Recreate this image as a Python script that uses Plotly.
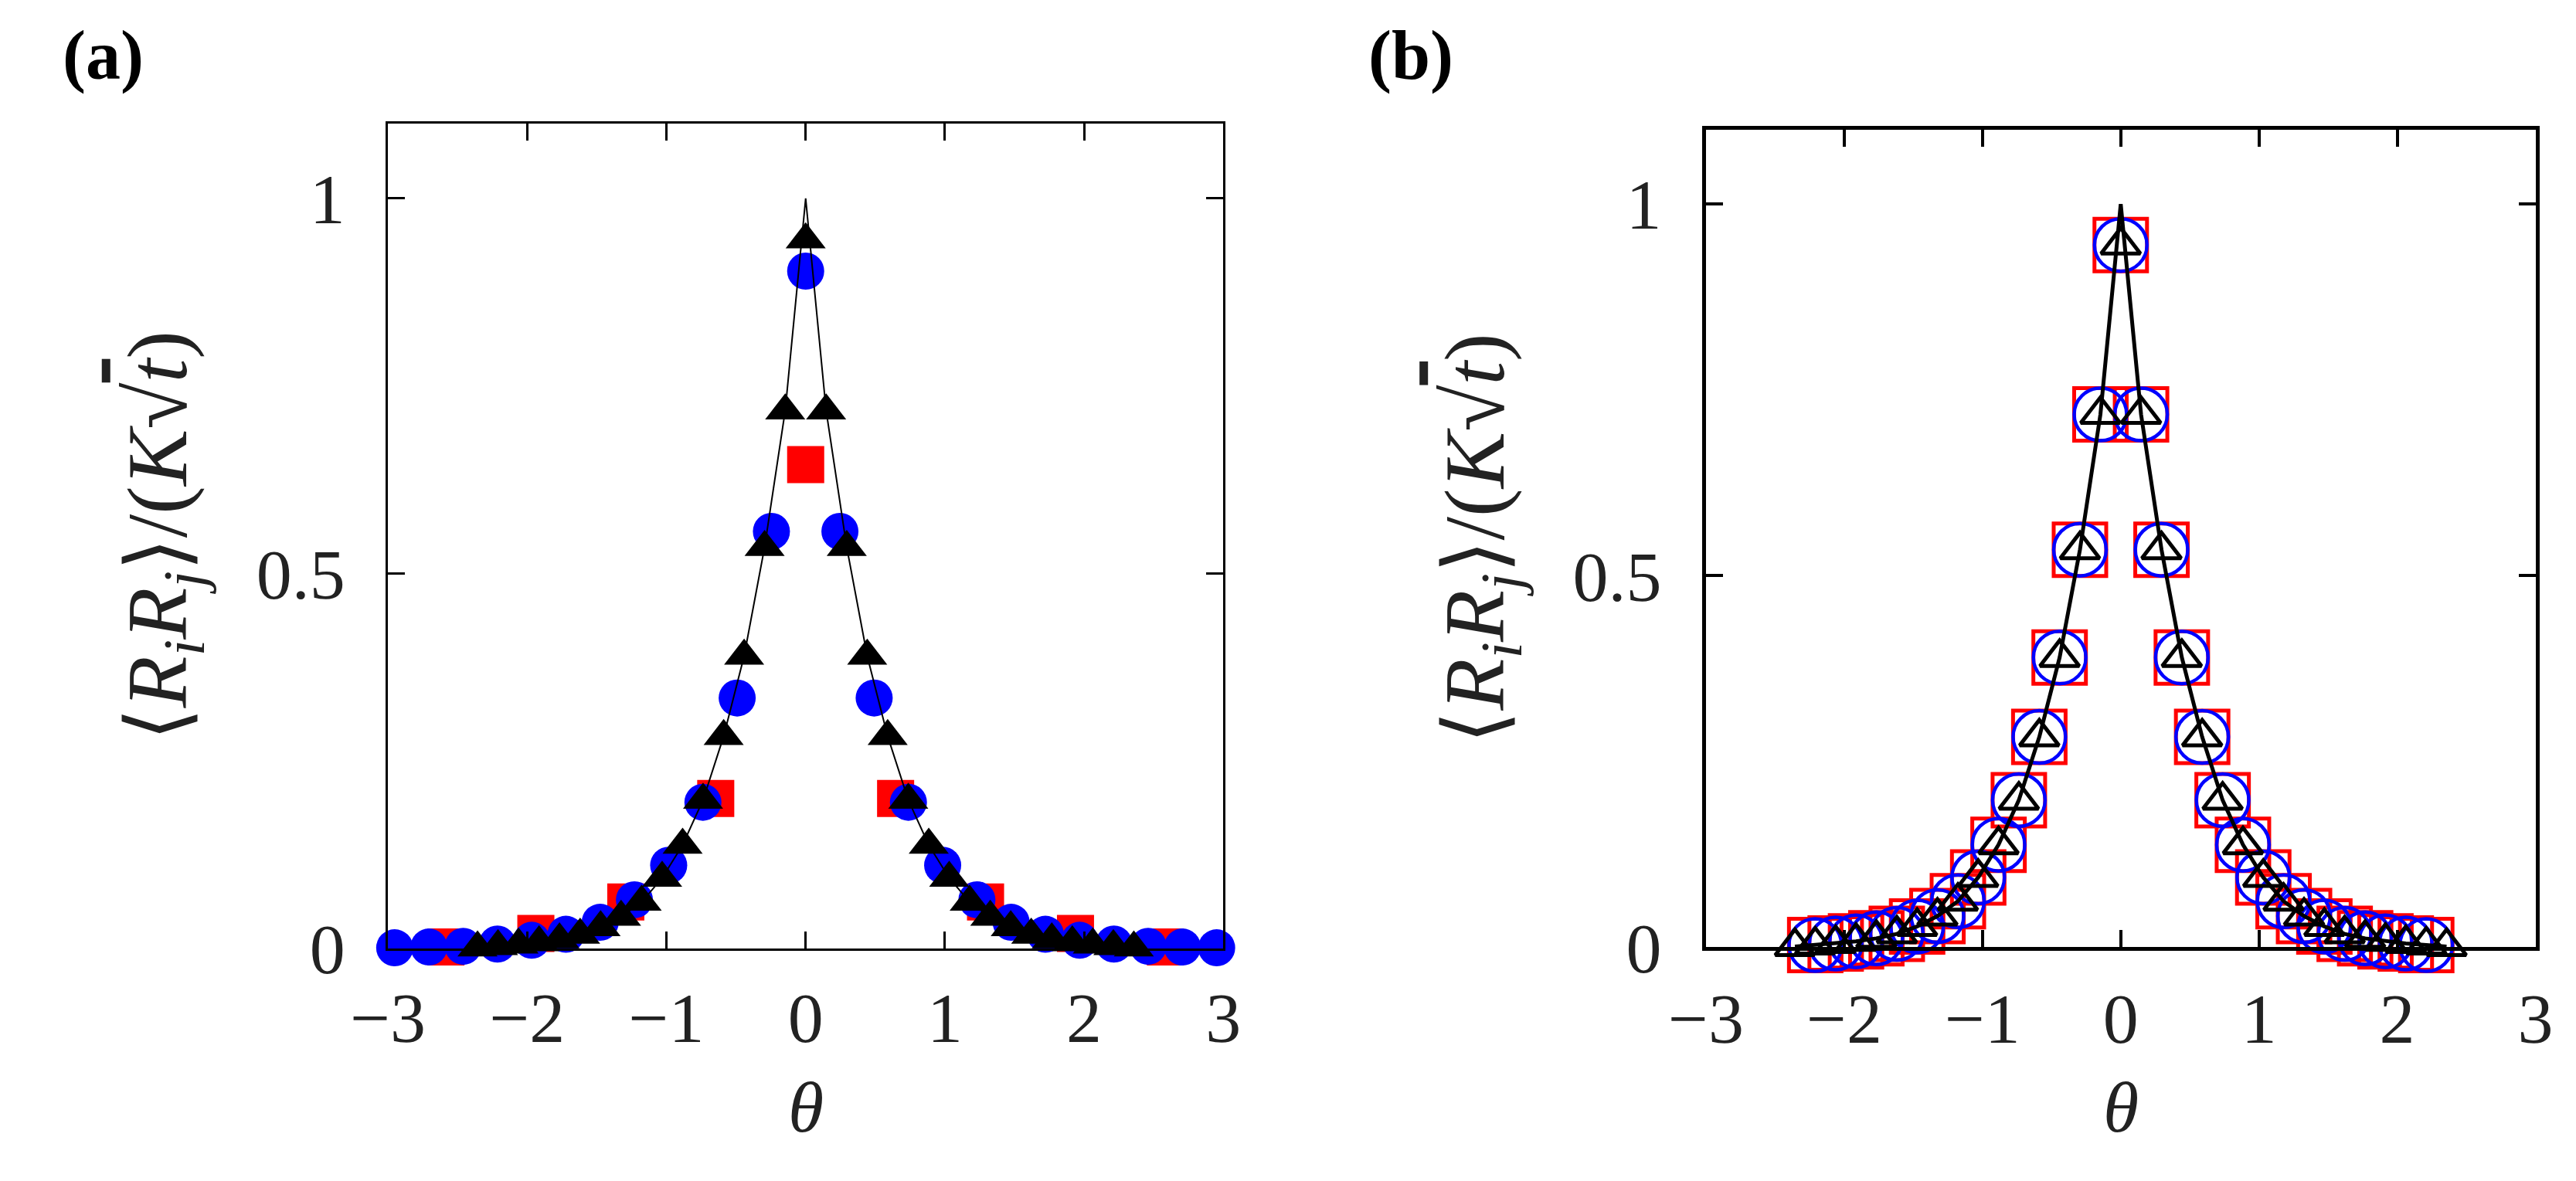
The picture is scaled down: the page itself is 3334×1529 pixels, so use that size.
import plotly.graph_objects as go

W, H = 3334, 1529

# triangle series (theta grid, also used by the solid line), panel (a) and (b)
tri_theta = [-2.357, -2.210, -2.062, -1.915, -1.768, -1.620, -1.473, -1.326, -1.178,
             -1.031, -0.884, -0.737, -0.589, -0.442, -0.295, -0.147, 0.0,
             0.147, 0.295, 0.442, 0.589, 0.737, 0.884, 1.031, 1.178,
             1.326, 1.473, 1.620, 1.768, 1.915, 2.062, 2.210, 2.357]
tri_vals = [0.001, 0.003, 0.005, 0.008, 0.012, 0.018, 0.028, 0.042, 0.062,
            0.094, 0.138, 0.198, 0.283, 0.390, 0.535, 0.717, 0.945,
            0.717, 0.535, 0.390, 0.283, 0.198, 0.138, 0.094, 0.062,
            0.042, 0.028, 0.018, 0.012, 0.008, 0.005, 0.003, 0.001]
line_vals = [0.001, 0.003, 0.005, 0.008, 0.012, 0.018, 0.028, 0.042, 0.062,
             0.094, 0.138, 0.198, 0.283, 0.390, 0.535, 0.717, 1.0,
             0.717, 0.535, 0.390, 0.283, 0.198, 0.138, 0.094, 0.062,
             0.042, 0.028, 0.018, 0.012, 0.008, 0.005, 0.003, 0.001]

# panel (a): filled blue circles
circ_theta = [-2.952, -2.706, -2.460, -2.214, -1.968, -1.722, -1.476, -1.230, -0.984,
              -0.738, -0.492, -0.246, 0.0, 0.246, 0.492, 0.738, 0.984,
              1.230, 1.476, 1.722, 1.968, 2.214, 2.460, 2.706, 2.952]
circ_vals = [0.001, 0.002, 0.003, 0.006, 0.011, 0.019, 0.035, 0.065, 0.111,
             0.195, 0.334, 0.556, 0.903, 0.556, 0.334, 0.195, 0.111,
             0.065, 0.035, 0.019, 0.011, 0.006, 0.003, 0.002, 0.001]

# panel (a): filled red squares
sq_theta = [-2.584, -1.938, -1.292, -0.646, 0.0, 0.646, 1.292, 1.938, 2.584]
sq_vals = [0.002, 0.020, 0.062, 0.200, 0.645, 0.200, 0.062, 0.020, 0.002]

# panel (b): open squares and circles share the triangle grid (without the ends)
b_theta = tri_theta[1:-1]
b_vals = tri_vals[1:-1]

x_ticks = [-3, -2, -1, 0, 1, 2, 3]
x_ticktext = ["\u22123", "\u22122", "\u22121", "0", "1", "2", "3"]
y_ticks = [0, 0.5, 1]
y_ticktext = ["0", "0.5", "1"]

FONT = "Liberation Serif"
Y_TITLE = ("\u27e8<i>R</i><sub><i>i</i></sub><i>R</i><sub><i>j</i></sub>\u27e9/(<i>K</i>"
           "\u221a<span style='text-decoration:overline'><i>t</i></span>)")

fig = go.Figure()

# ---- panel (a)
fig.add_trace(go.Scatter(
    x=sq_theta, y=sq_vals, mode="markers", xaxis="x", yaxis="y",
    marker=dict(symbol="square", size=48, color="#ff0000", line_width=0),
    cliponaxis=False))
fig.add_trace(go.Scatter(
    x=circ_theta, y=circ_vals, mode="markers", xaxis="x", yaxis="y",
    marker=dict(symbol="circle", size=48, color="#0000ff", line_width=0),
    cliponaxis=False))
fig.add_trace(go.Scatter(
    x=tri_theta, y=line_vals, mode="lines", xaxis="x", yaxis="y",
    line=dict(color="black", width=2), cliponaxis=False))
fig.add_trace(go.Scatter(
    x=tri_theta, y=tri_vals, mode="markers", xaxis="x", yaxis="y",
    marker=dict(symbol="triangle-up", size=45, color="black", line_width=0),
    cliponaxis=False))

# ---- panel (b)
fig.add_trace(go.Scatter(
    x=b_theta, y=b_vals, mode="markers", xaxis="x2", yaxis="y2",
    marker=dict(symbol="square-open", size=68, color="#ff0000", line=dict(width=5, color="#ff0000")),
    cliponaxis=False))
fig.add_trace(go.Scatter(
    x=b_theta, y=b_vals, mode="markers", xaxis="x2", yaxis="y2",
    marker=dict(symbol="circle-open", size=68, color="#0000ff", line=dict(width=4.5, color="#0000ff")),
    cliponaxis=False))
fig.add_trace(go.Scatter(
    x=tri_theta, y=tri_vals, mode="markers", xaxis="x2", yaxis="y2",
    marker=dict(symbol="triangle-up-open", size=44, color="black", line=dict(width=5, color="black")),
    cliponaxis=False))
fig.add_trace(go.Scatter(
    x=tri_theta, y=line_vals, mode="lines", xaxis="x2", yaxis="y2",
    line=dict(color="black", width=5), cliponaxis=False))


def axis_style(lw, tw):
    return dict(
        showline=True, linecolor="black", linewidth=lw, mirror="ticks",
        ticks="inside", ticklen=22, tickwidth=tw, tickcolor="black",
        showgrid=False, zeroline=False,
        tickfont=dict(family=FONT, size=92, color="#222222"),
    )


xa = dict(range=[-3, 3], tickvals=x_ticks, ticktext=x_ticktext, ticklabelstandoff=8)
ya = dict(range=[0, 1.1], tickvals=y_ticks, ticktext=y_ticktext, ticklabelstandoff=34)

fig.update_layout(
    width=W, height=H,
    margin=dict(l=0, r=0, t=0, b=0),
    plot_bgcolor="white", paper_bgcolor="white",
    showlegend=False,
    xaxis=dict(**axis_style(3, 2.5), **xa, domain=[455 / W, 1560 / W], anchor="y"),
    yaxis=dict(**axis_style(3, 2.5), **ya, domain=[1 - 1263 / H, 1 - 157 / H], anchor="x"),
    xaxis2=dict(**axis_style(5, 4), **xa, domain=[2198.5 / W, 3295.7 / W], anchor="y2"),
    yaxis2=dict(**axis_style(5, 4), **ya, domain=[1 - 1261.3 / H, 1 - 165.7 / H], anchor="x2"),
)

labels = [
    ("(a)", 22, 455, 1560, 157, 1263),
    ("(b)", 1750, 2198.5, 3295.7, 165.7, 1261.3),
]
for tag, tag_x, left, right, top, bottom in labels:
    fig.add_annotation(
        text=f"<b>{tag}</b>", xref="paper", yref="paper",
        x=tag_x / W, y=1 - 66 / H, xanchor="left", yanchor="middle",
        showarrow=False, font=dict(family=FONT, size=90, color="black"))
    fig.add_annotation(
        text=Y_TITLE, xref="paper", yref="paper", textangle=-90,
        x=(left - 297) / W, y=1 - (top + bottom) / 2 / H,
        xanchor="center", yanchor="middle",
        showarrow=False, font=dict(family=FONT, size=110, color="#222222"))
    fig.add_annotation(
        text="<i>\u03b8</i>", xref="paper", yref="paper",
        x=(left + right) / 2 / W, y=1 - 1475 / H,
        xanchor="center", yanchor="middle",
        showarrow=False, font=dict(family=FONT, size=94, color="#222222"))

fig.write_html("out.html")
